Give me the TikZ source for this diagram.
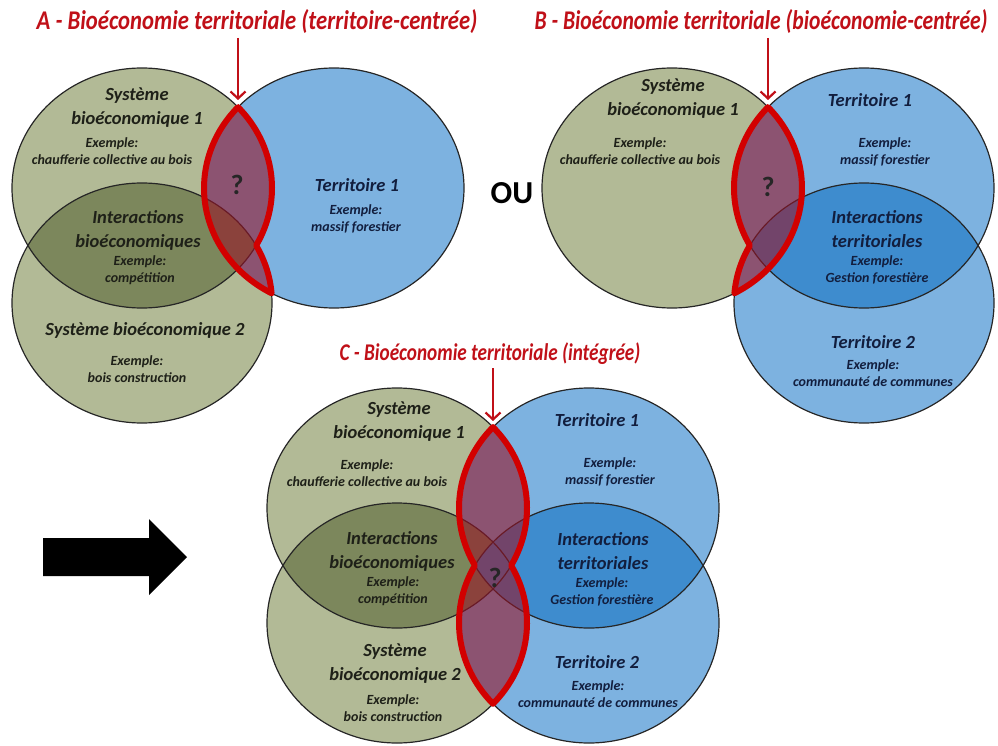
\documentclass[tikz,border=0pt]{standalone}
\usepackage{fontspec}
\setmainfont{Carlito}
\usetikzlibrary{arrows.meta}

\definecolor{greenfill}{RGB}{178,186,150}
\definecolor{greenlens}{RGB}{124,135,92}
\definecolor{bluefill}{RGB}{125,178,224}
\definecolor{bluelens}{RGB}{62,140,206}
\definecolor{redline}{RGB}{210,0,0}
\definecolor{redfill}{RGB}{150,20,40}
\definecolor{titlered}{RGB}{192,16,24}
\definecolor{bluetext}{RGB}{18,30,62}
\definecolor{greentext}{RGB}{30,32,24}

% condensed heading text
\newcommand{\narrow}[2][0.84]{\scalebox{#1}[1]{#2}}

\begin{document}
\begin{tikzpicture}[x=1pt, y=-1pt, x radius=130, y radius=120,
  rim/.style={draw=black!85, line width=1.2pt},
  redzone/.style={fill=redfill, fill opacity=0.6, draw=redline, line width=6pt, line join=round},
  bigtext/.style={font=\bfseries\itshape\fontsize{18.5}{24}\selectfont, align=center},
  smalltext/.style={font=\bfseries\itshape\fontsize{14}{17}\selectfont, align=center},
  sysname/.style={bigtext, text=greentext},
  sysex/.style={smalltext, text=greentext},
  tername/.style={bigtext, text=bluetext},
  terex/.style={smalltext, text=bluetext},
  heading/.style={font=\bfseries\itshape\fontsize{27}{30}\selectfont, text=titlered},
  query/.style={font=\bfseries\fontsize{28}{28}\selectfont, text=black!85},
  pointer/.style={draw=titlered, line width=2.2pt, -{Straight Barb[length=7pt, width=15pt]}}]
  \useasboundingbox (0,0) rectangle (998,746);

  % circles: systems (green) then territories (blue)
  \foreach \cx/\cy in {142/188, 142/303, 672/188, 397/508, 397/623}
    \fill[greenfill] (\cx,\cy) ellipse [x radius=130, y radius=120];
  \foreach \cx/\cy in {334/188, 864/188, 864/303, 589/508, 589/623}
    \fill[bluefill] (\cx,\cy) ellipse [x radius=130, y radius=120];

  % interaction lenses
  \foreach \cx/\cy/\lens in {142/188/greenlens, 864/188/bluelens, 397/508/greenlens, 589/508/bluelens} {
    \begin{scope}
      \clip (\cx,\cy) ellipse [x radius=130, y radius=120];
      \fill[fill=\lens] (\cx,\cy+115) ellipse [x radius=130, y radius=120];
    \end{scope}
  }

  % outlines
  \foreach \cx/\cy in {142/188, 142/303, 334/188, 672/188, 864/188, 864/303, 397/508, 397/623, 589/508, 589/623}
    \draw[rim] (\cx,\cy) ellipse [x radius=130, y radius=120];

  % red zones
  \filldraw[redzone] (238,107.1) arc [start angle=-42.4, end angle=28.6]
    arc [start angle=-28.6, end angle=-4.6]
    arc [start angle=118.7, end angle=222.4] -- cycle;
  \filldraw[redzone] (768,107.1) arc [start angle=222.4, end angle=151.4]
    arc [start angle=208.6, end angle=184.6]
    arc [start angle=61.3, end angle=-42.4] -- cycle;
  \filldraw[redzone] (493,427.1) arc [start angle=-42.4, end angle=28.6]
    arc [start angle=-28.6, end angle=42.4]
    arc [start angle=137.6, end angle=208.6]
    arc [start angle=151.4, end angle=222.4] -- cycle;

  % big arrow
  \fill[black] (43,538) -- (149,538) -- (149,519) -- (187,557) -- (149,595) -- (149,576) -- (43,576) -- cycle;

  % headings and pointers
  \node[heading] (titA) at (257,22) {\narrow{A - Bioéconomie territoriale (territoire-centrée)}};
  \node[heading] (titB) at (761,22) {\narrow[0.8]{B - Bioéconomie territoriale (bioéconomie-centrée)}};
  \node[heading, font=\bfseries\itshape\fontsize{24}{28}\selectfont] (titC) at (490,354) {\narrow[0.8]{C - Bioéconomie territoriale (intégrée)}};
  \coordinate (tailA) at (238,38);
  \coordinate (tipA) at (238,100);
  \coordinate (tailB) at (768,38);
  \coordinate (tipB) at (768,100);
  \coordinate (tailC) at (493,368);
  \coordinate (tipC) at (493,421);
  \draw[pointer] (tailA) -- (tipA);
  \draw[pointer] (tailB) -- (tipB);
  \draw[pointer] (tailC) -- (tipC);
  \node[font=\bfseries\fontsize{32}{32}\selectfont] (ou) at (512,193) {OU};

  % labels A
  \node[sysname] (sysA1) at (137,108) {Système\\bioéconomique 1};
  \node[sysex] (exA1) at (112,151.5) {Exemple:\\chaufferie collective au bois};
  \node[sysname] (intA) at (138,230) {Interactions\\bioéconomiques};
  \node[sysex] (exintA) at (140,270) {Exemple:\\compétition};
  \node[sysname] (sysA2) at (145,330) {Système bioéconomique 2};
  \node[sysex] (exA2) at (137,369) {Exemple:\\bois construction};
  \node[query] (qA) at (237,185) {?};
  \node[tername] (terA1) at (357,185) {Territoire 1};
  \node[terex] (exterA1) at (356,218.5) {Exemple:\\massif forestier};

  % labels B
  \node[sysname] (sysB1) at (673,98.5) {Système\\bioéconomique 1};
  \node[sysex] (exB1) at (640,151) {Exemple:\\chaufferie collective au bois};
  \node[query] (qB) at (768,187) {?};
  \node[tername] (terB1) at (870,100) {Territoire 1};
  \node[terex] (exterB1) at (885,151.5) {Exemple:\\massif forestier};
  \node[tername] (intB) at (877,229.5) {Interactions\\territoriales};
  \node[terex] (exintB) at (877,270) {Exemple:\\Gestion forestière};
  \node[tername] (terB2) at (873,342) {Territoire 2};
  \node[terex] (exterB2) at (873,373) {Exemple:\\communauté de communes};

  % labels C
  \node[sysname] (sysC1) at (399,421.5) {Système\\bioéconomique 1};
  \node[sysex] (exC1) at (367,473.5) {Exemple:\\chaufferie collective au bois};
  \node[sysname] (intC1) at (392,551.5) {Interactions\\bioéconomiques};
  \node[sysex] (exintC1) at (393,591.5) {Exemple:\\compétition};
  \node[sysname] (sysC2) at (395,663.5) {Système\\bioéconomique 2};
  \node[sysex] (exC2) at (393,708.5) {Exemple:\\bois construction};
  \node[query] (qC) at (495,578) {?};
  \node[tername] (terC1) at (597,420) {Territoire 1};
  \node[terex] (exterC1) at (610,471.5) {Exemple:\\massif forestier};
  \node[tername] (intC2) at (603,551.5) {Interactions\\territoriales};
  \node[terex] (exintC2) at (602,591.5) {Exemple:\\Gestion forestière};
  \node[tername] (terC2) at (597,662) {Territoire 2};
  \node[terex] (exterC2) at (598,694) {Exemple:\\communauté de communes};
\end{tikzpicture}
\end{document}
